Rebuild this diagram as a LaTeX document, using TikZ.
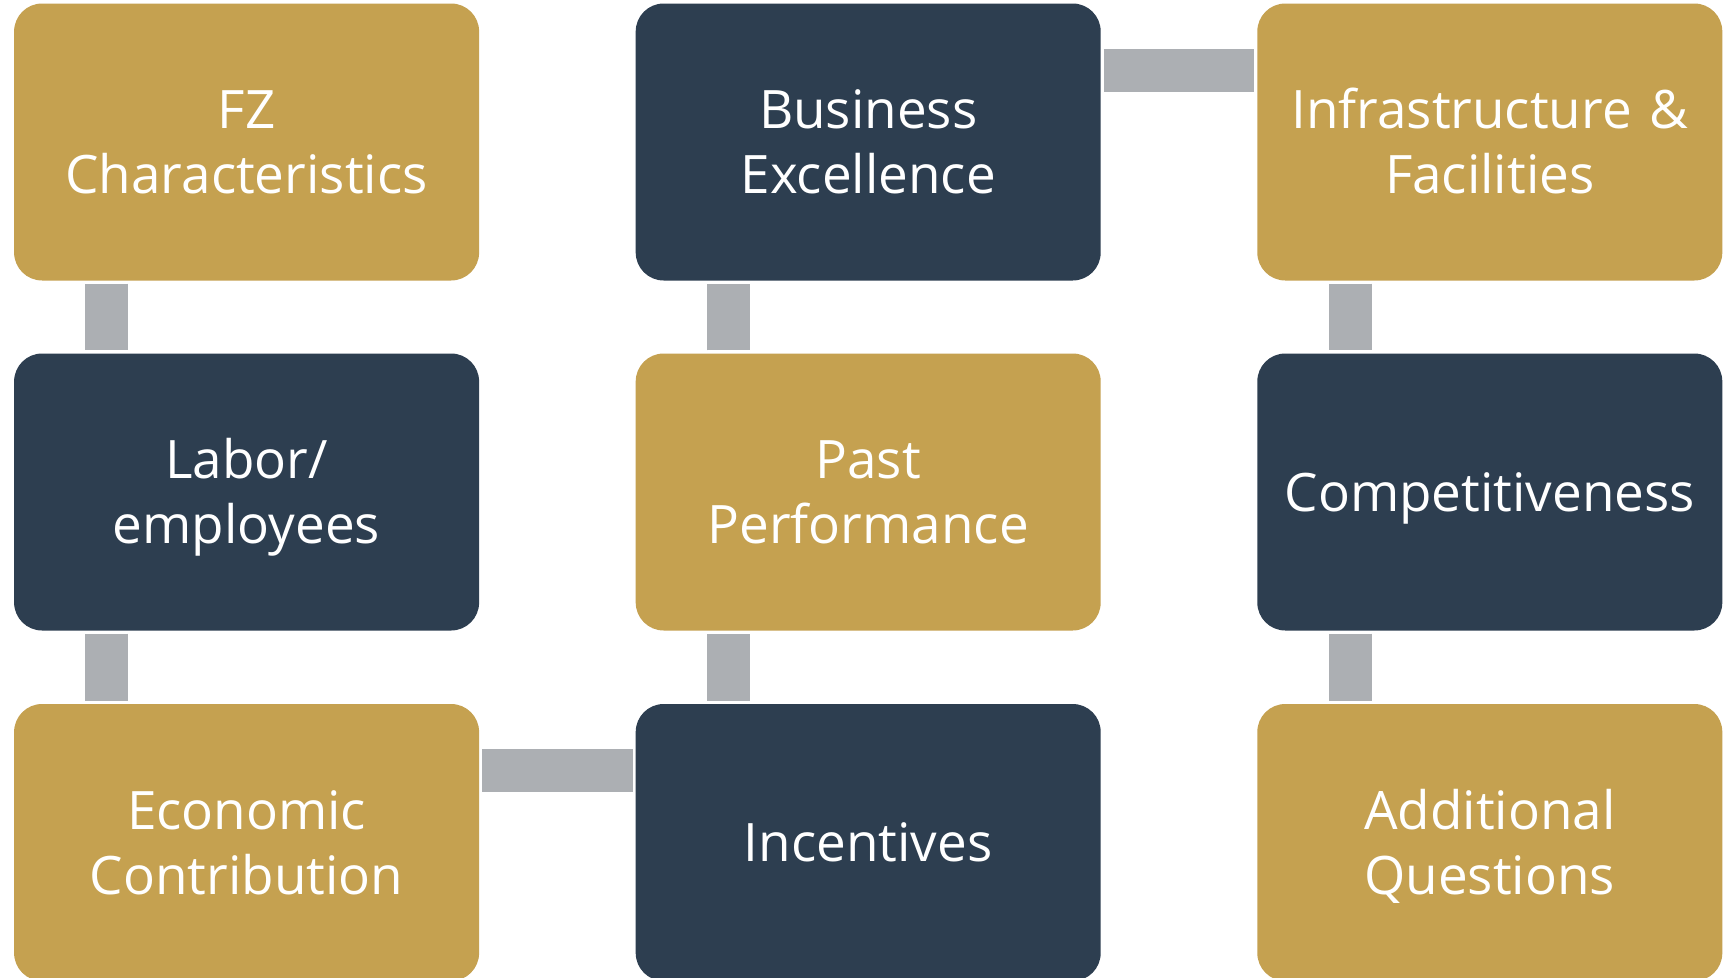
\documentclass[tikz,border=0pt]{standalone}
\usepackage{fontspec}
\setmainfont{Open Sans}
\definecolor{gold}{HTML}{C5A150}
\definecolor{navy}{HTML}{2D3E50}
\definecolor{linkgrey}{HTML}{ACAFB3}
\newcommand\boxline[1]{\raisebox{0pt}[0.72em][0pt]{#1}}
\tikzset{
  box/.style={rectangle, rounded corners=28pt, minimum width=465pt, minimum height=277pt,
    text width=445pt, align=center, inner sep=0pt, text=white,
    font=\fontsize{53}{65}\selectfont},
  goldbox/.style={box, fill=gold},
  navybox/.style={box, fill=navy},
  link/.style={draw=linkgrey, line width=43pt, line cap=butt, shorten <=3pt, shorten >=3pt},
}
\begin{document}
\begin{tikzpicture}[x=1pt,y=-1pt]
\useasboundingbox (0,0) rectangle (1734,977);
\clip (0,0) rectangle (1734,977);
\fill[white] (0,0) rectangle (1734,977);
% column 1
\node[goldbox] (fz) at (246.6,142) {\boxline{FZ}\\\boxline{Characteristics}};
\node[navybox] (lab) at (246.6,492) {\boxline{Labor/}\\\boxline{employees}};
\node[goldbox] (eco) at (246.6,842.5) {\boxline{Economic}\\\boxline{Contribution}};
% column 2
\node[navybox] (bus) at (868.2,142) {\boxline{Business}\\\boxline{Excellence}};
\node[goldbox] (past) at (868.2,492) {\boxline{Past}\\\boxline{Performance}};
\node[navybox] (inc) at (868.2,842.5) {\boxline{Incentives}};
% column 3
\node[goldbox] (inf) at (1489.8,142) {\boxline{Infrastructure \&}\\\boxline{Facilities}};
\node[navybox] (comp) at (1489.8,492) {\boxline{Competitiveness}};
\node[goldbox] (add) at (1489.8,842.5) {\boxline{Additional}\\\boxline{Questions}};
% connectors
\draw[link] ([xshift=93pt]fz.south west) -- ([xshift=93pt]lab.north west);
\draw[link] ([xshift=93pt]lab.south west) -- ([xshift=93pt]eco.north west);
\draw[link] ([yshift=-67pt]eco.north east) -- ([yshift=-67pt]inc.north west);
\draw[link] ([xshift=93pt]inc.north west) -- ([xshift=93pt]past.south west);
\draw[link] ([xshift=93pt]past.north west) -- ([xshift=93pt]bus.south west);
\draw[link] ([yshift=-67pt]bus.north east) -- ([yshift=-67pt]inf.north west);
\draw[link] ([xshift=93pt]inf.south west) -- ([xshift=93pt]comp.north west);
\draw[link] ([xshift=93pt]comp.south west) -- ([xshift=93pt]add.north west);
\end{tikzpicture}
\end{document}
